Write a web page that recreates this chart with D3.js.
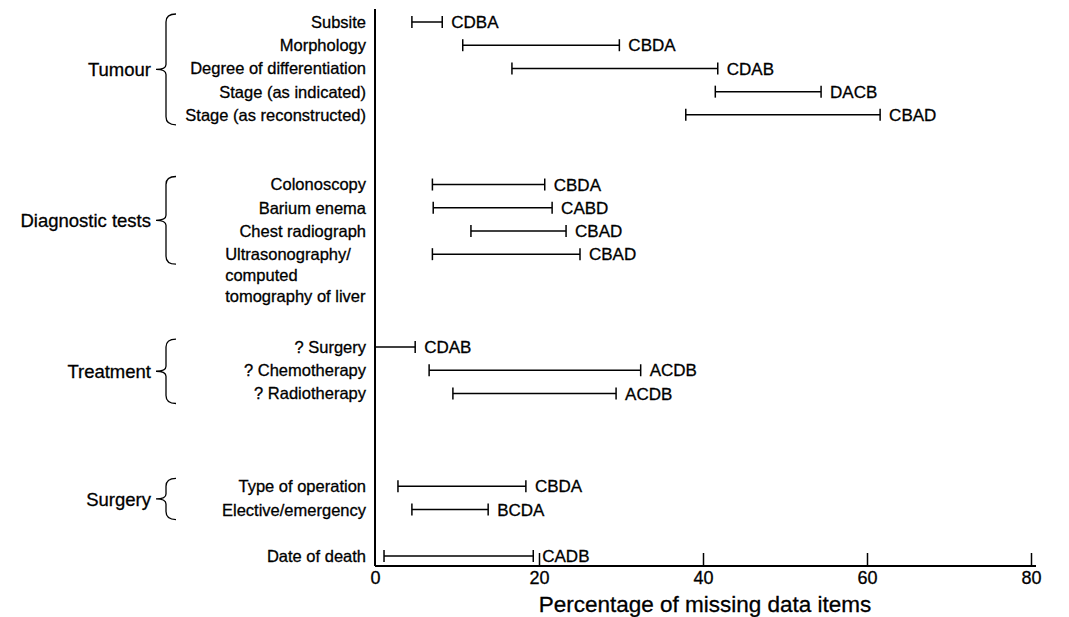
<!DOCTYPE html>
<html>
<head>
<meta charset="utf-8">
<script src="https://cdn.jsdelivr.net/npm/d3@7"></script>
<style>
  body { margin: 0; background: #fff; }
  svg { display: block; font-family: "Liberation Sans", Arial, Helvetica, sans-serif; }
  svg text { fill: #000; stroke: #000; stroke-width: 0.3px; }
</style>
</head>
<body>
<svg id="chart" width="1069" height="617"></svg>
<script>
// Rows top to bottom; empty strings are the blank rows between groups
const categories = [
  'Subsite', 'Morphology', 'Degree of differentiation', 'Stage (as indicated)', 'Stage (as reconstructed)',
  '', '',
  'Colonoscopy', 'Barium enema', 'Chest radiograph', 'Ultrasonography/\ncomputed\ntomography of liver',
  '', '', '',
  '? Surgery', '? Chemotherapy', '? Radiotherapy',
  '', '', '',
  'Type of operation', 'Elective/emergency',
  '',
  'Date of death'
];
const lowPct = [4.5, 10.7, 16.7, 41.5, 37.9, null, null, 7.0, 7.1, 11.7, 7.0, null, null, null,
  0, 6.6, 9.5, null, null, null, 2.8, 4.5, null, 1.1];
const highPct = [8.2, 29.8, 41.8, 54.4, 61.6, null, null, 20.7, 21.6, 23.3, 25.0, null, null, null,
  4.9, 32.4, 29.4, null, null, null, 18.4, 13.8, null, 19.3];
const rankOrder = ['CDBA', 'CBDA', 'CDAB', 'DACB', 'CBAD', '', '', 'CBDA', 'CABD', 'CBAD', 'CBAD', '', '', '',
  'CDAB', 'ACDB', 'ACDB', '', '', '', 'CBDA', 'BCDA', '', 'CADB'];

const groupNames = ['Tumour', 'Diagnostic tests', 'Treatment', 'Surgery'];
const groupFirst = ['Subsite', 'Colonoscopy', '? Surgery', 'Type of operation'];
const groupLast = ['Stage (as reconstructed)', 'Ultrasonography/\ncomputed\ntomography of liver', '? Radiotherapy', 'Elective/emergency'];

const xTicks = [0, 20, 40, 60, 80];
const xTitle = 'Percentage of missing data items';

const svg = d3.select('#chart');

const x = d3.scaleLinear().domain([0, 80]).range([375, 1031]);
const y = d3.scalePoint().domain(d3.range(categories.length)).range([22, 556]);
const axisY = 566;

const rows = categories.map((c, i) => ({
  label: c, lo: lowPct[i], hi: highPct[i], rank: rankOrder[i], i: i
}));
const bars = rows.filter(d => d.lo !== null);

// x axis with upward ticks
const xAxis = d3.axisBottom(x)
  .tickValues(xTicks)
  .tickSize(-13)
  .tickSizeOuter(0)
  .tickPadding(5)
  .tickFormat(d3.format('d'));

const gx = svg.append('g')
  .attr('transform', `translate(0,${axisY})`)
  .call(xAxis);
gx.select('.domain')
  .attr('d', `M${x(0)},0H${x(80) + 5}`)
  .attr('stroke', '#000')
  .attr('stroke-width', 2);
gx.selectAll('.tick line').attr('stroke', '#000').attr('stroke-width', 1.5);
gx.selectAll('.tick').filter(d => d === 0).select('line').remove();
gx.selectAll('.tick text')
  .style('font-size', '18px')
  .style('font-family', '"Liberation Sans", Arial, Helvetica, sans-serif');

// y axis line
svg.append('line')
  .attr('x1', x(0)).attr('x2', x(0))
  .attr('y1', 9).attr('y2', axisY)
  .attr('stroke', '#000')
  .attr('stroke-width', 2);

svg.append('text')
  .attr('x', x(40) + 2)
  .attr('y', 612)
  .attr('text-anchor', 'middle')
  .style('font-size', '22.5px')
  .text(xTitle);

// range bars
const capH = 6;
const gBars = svg.append('g').attr('stroke', '#000').attr('stroke-width', 1.5);
gBars.selectAll('.bar')
  .data(bars)
  .join('line')
  .attr('x1', d => x(d.lo)).attr('x2', d => x(d.hi))
  .attr('y1', d => y(d.i)).attr('y2', d => y(d.i));
gBars.selectAll('.capl')
  .data(bars.filter(d => d.lo > 0))
  .join('line')
  .attr('x1', d => x(d.lo)).attr('x2', d => x(d.lo))
  .attr('y1', d => y(d.i) - capH).attr('y2', d => y(d.i) + capH);
gBars.selectAll('.capr')
  .data(bars)
  .join('line')
  .attr('x1', d => x(d.hi)).attr('x2', d => x(d.hi))
  .attr('y1', d => y(d.i) - capH).attr('y2', d => y(d.i) + capH);

// rank order codes
svg.selectAll('.rank')
  .data(bars)
  .join('text')
  .attr('x', d => x(d.hi) + 9)
  .attr('y', d => y(d.i))
  .attr('dy', '0.36em')
  .style('font-size', '17px')
  .text(d => d.rank);

// row labels
const labelX = 366;
bars.forEach(d => {
  const lines = d.label.split('\n');
  if (lines.length === 1) {
    svg.append('text')
      .attr('x', labelX)
      .attr('y', y(d.i))
      .attr('dy', '0.36em')
      .attr('text-anchor', 'end')
      .style('font-size', '16.5px')
      .text(d.label);
  } else {
    const t = svg.append('text')
      .attr('y', y(d.i))
      .style('font-size', '16.5px');
    lines.forEach((l, k) => {
      t.append('tspan')
        .attr('x', 0)
        .attr('y', y(d.i) + k * 21)
        .attr('dy', '0.36em')
        .text(l);
    });
    const w = t.node().getBBox().width;
    t.attr('transform', `translate(${labelX - w},0)`);
  }
});

// group braces and labels
const idx = name => categories.indexOf(name);
groupNames.forEach((g, k) => {
  const y0 = y(idx(groupFirst[k])) - 8;
  const y1 = y(idx(groupLast[k])) + 10;
  const mid = (y0 + y1) / 2;
  const xe = 176, xb = 166, xt = 156, r = 8, s = 5;
  svg.append('path')
    .attr('d', `M${xe},${y0} Q${xb},${y0} ${xb},${y0 + r} L${xb},${mid - s} Q${xb},${mid} ${xt},${mid}` +
      ` Q${xb},${mid} ${xb},${mid + s} L${xb},${y1 - r} Q${xb},${y1} ${xe},${y1}`)
    .attr('fill', 'none')
    .attr('stroke', '#000')
    .attr('stroke-width', 1.3);
  svg.append('text')
    .attr('x', 151)
    .attr('y', mid)
    .attr('dy', '0.36em')
    .attr('text-anchor', 'end')
    .style('font-size', '18.5px')
    .text(g);
});
</script>
</body>
</html>
